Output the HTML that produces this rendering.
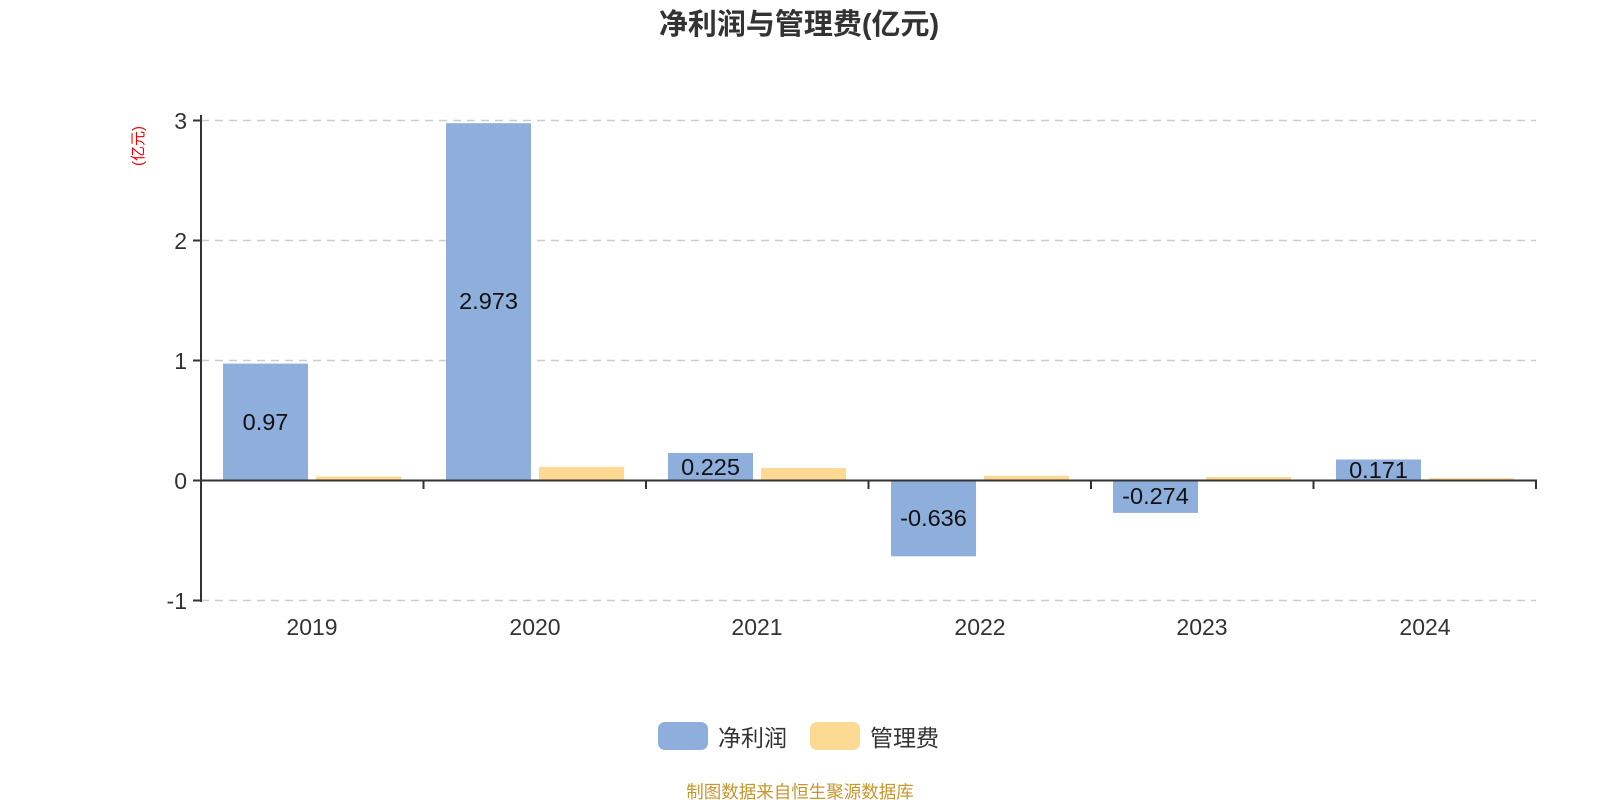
<!DOCTYPE html>
<html><head><meta charset="utf-8"><style>
html,body{margin:0;padding:0;background:#fff;}
svg{display:block;font-family:"Liberation Sans","Noto Sans CJK SC",sans-serif;}
</style></head><body>
<svg width="1600" height="800" viewBox="0 0 1600 800" xmlns="http://www.w3.org/2000/svg">
<text x="799" y="34" text-anchor="middle" font-size="29" font-weight="bold" fill="#333">净利润与管理费(亿元)</text>
<text transform="translate(143,146) rotate(-90)" text-anchor="middle" font-size="15" fill="#e00">(亿元)</text>
<g stroke="#ccc" stroke-width="1.5" stroke-dasharray="8,6">
<line x1="201" y1="120.5" x2="1536" y2="120.5"/>
<line x1="201" y1="240.5" x2="1536" y2="240.5"/>
<line x1="201" y1="360.5" x2="1536" y2="360.5"/>
<line x1="201" y1="600.5" x2="1536" y2="600.5"/>
</g>
<g font-size="23" fill="#333" text-anchor="end">
<text x="187" y="129">3</text><text x="187" y="249">2</text><text x="187" y="369">1</text><text x="187" y="489">0</text><text x="187" y="609">-1</text>
</g>
<g fill="#8eaedb">
<rect x="223" y="363.6" width="85" height="116.4"/>
<rect x="446" y="123.2" width="85" height="356.8"/>
<rect x="668" y="453" width="85" height="27"/>
<rect x="891" y="480" width="85" height="76.3"/>
<rect x="1113" y="480" width="85" height="32.9"/>
<rect x="1336" y="459.5" width="85" height="20.5"/>
</g>
<g fill="#fed993">
<rect x="316" y="476.4" width="85" height="3.6"/>
<rect x="539" y="466.8" width="85" height="13.2"/>
<rect x="761" y="468" width="85" height="12"/>
<rect x="984" y="475.8" width="85" height="4.2"/>
<rect x="1206" y="477" width="85" height="3"/>
<rect x="1429" y="478.2" width="85" height="1.8"/>
</g>
<g font-size="23.5" fill="#111" text-anchor="middle">
<text x="265.5" y="430">0.97</text>
<text x="488.5" y="309">2.973</text>
<text x="710.5" y="475">0.225</text>
<text x="933.5" y="526">-0.636</text>
<text x="1155.5" y="504">-0.274</text>
<text x="1378.5" y="478">0.171</text>
</g>
<g stroke="#333" stroke-width="2">
<line x1="201" y1="115" x2="201" y2="602"/>
<line x1="193" y1="120.5" x2="201" y2="120.5"/>
<line x1="193" y1="240.5" x2="201" y2="240.5"/>
<line x1="193" y1="360.5" x2="201" y2="360.5"/>
<line x1="193" y1="480.5" x2="201" y2="480.5"/>
<line x1="193" y1="600.5" x2="201" y2="600.5"/>
<line x1="200" y1="480.5" x2="1537" y2="480.5"/>
<line x1="423.5" y1="480" x2="423.5" y2="489"/>
<line x1="646" y1="480" x2="646" y2="489"/>
<line x1="868.5" y1="480" x2="868.5" y2="489"/>
<line x1="1091" y1="480" x2="1091" y2="489"/>
<line x1="1313.5" y1="480" x2="1313.5" y2="489"/>
<line x1="1536" y1="480" x2="1536" y2="489"/>
</g>
<g font-size="23" fill="#333" text-anchor="middle">
<text x="312" y="635">2019</text><text x="535" y="635">2020</text><text x="757" y="635">2021</text>
<text x="980" y="635">2022</text><text x="1202" y="635">2023</text><text x="1425" y="635">2024</text>
</g>
<rect x="658" y="722" width="50" height="28" rx="7" fill="#8eaedb"/>
<text x="718" y="746" font-size="23" fill="#333">净利润</text>
<rect x="810" y="722" width="50" height="28" rx="7" fill="#fed993"/>
<text x="870" y="746" font-size="23" fill="#333">管理费</text>
<text x="800" y="798" text-anchor="middle" font-size="17.5" fill="#c8962c">制图数据来自恒生聚源数据库</text>
</svg>
</body></html>
